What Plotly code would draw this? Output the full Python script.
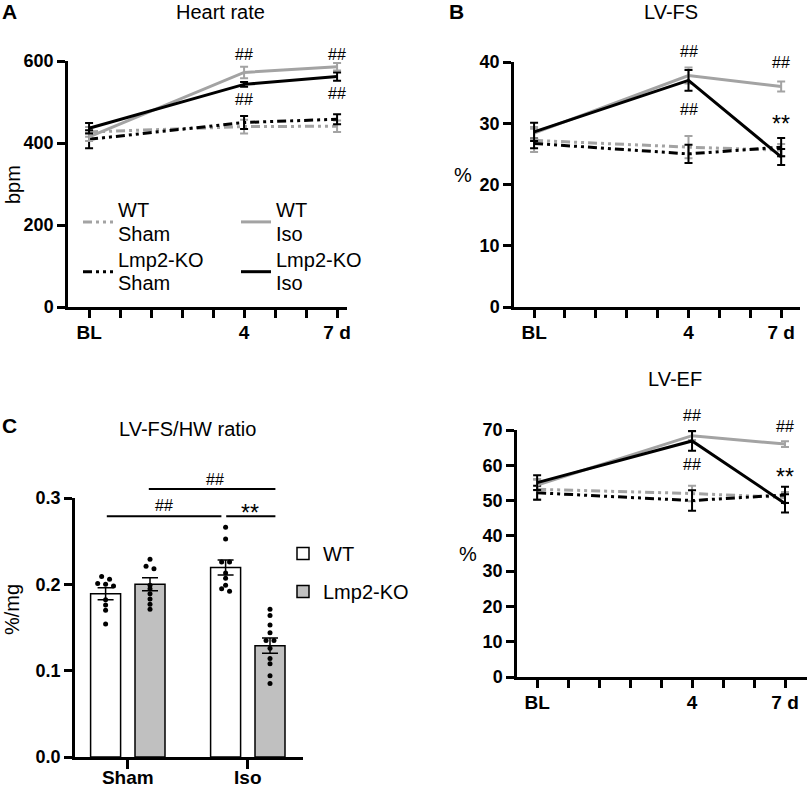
import plotly.graph_objects as go

# ---- data ----
day_ticks = [-1, 0, 1, 2, 3, 4, 5, 6, 7]
day_labels = ["BL", "", "", "", "", "4", "", "", "7 d"]
days = [-1, 4, 7]  # BL, day 4, day 7

# Heart rate (bpm), mean and SEM
hr_wt_sham = [427, 440, 441]
hr_wt_sham_sem = [12, 17, 14]
hr_ko_sham = [409, 450, 458]
hr_ko_sham_sem = [22, 16, 12]
hr_wt_iso = [415, 572, 586]
hr_wt_iso_sem = [10, 14, 9]
hr_ko_iso = [436, 543, 562]
hr_ko_iso_sem = [13, 6, 10]

# LV-FS (%)
fs_wt_sham = [27.2, 26.1, 25.6]
fs_wt_sham_sem = [1.9, 1.8, 1.0]
fs_ko_sham = [26.7, 25.0, 26.1]
fs_ko_sham_sem = [0.8, 1.5, 1.5]
fs_wt_iso = [28.4, 37.8, 36.0]
fs_wt_iso_sem = [1.0, 1.3, 0.8]
fs_ko_iso = [28.6, 37.0, 24.5]
fs_ko_iso_sem = [1.5, 1.7, 1.3]

# LV-EF (%)
ef_wt_sham = [53.2, 52.0, 50.9]
ef_wt_sham_sem = [2.9, 2.2, 1.5]
ef_ko_sham = [52.2, 50.0, 51.6]
ef_ko_sham_sem = [2.0, 2.9, 2.3]
ef_wt_iso = [54.4, 68.4, 66.0]
ef_wt_iso_sem = [1.5, 1.2, 0.8]
ef_ko_iso = [55.1, 66.9, 49.2]
ef_ko_iso_sem = [2.1, 2.8, 2.6]

# LV-FS/HW ratio (%/mg)
groups = ["Sham", "Iso"]
ratio_wt_mean = [0.189, 0.2195]
ratio_wt_sem = [0.007, 0.0087]
ratio_ko_mean = [0.200, 0.129]
ratio_ko_sem = [0.0075, 0.0087]
ratio_wt_sham_pts = [0.209, 0.206, 0.201, 0.200, 0.198, 0.182, 0.176, 0.170, 0.154]
ratio_ko_sham_pts = [0.229, 0.221, 0.218, 0.199, 0.195, 0.189, 0.183, 0.177, 0.171]
ratio_wt_iso_pts = [0.266, 0.2525, 0.226, 0.226, 0.213, 0.207, 0.199, 0.195, 0.192]
ratio_ko_iso_pts = [0.171, 0.164, 0.153, 0.144, 0.135, 0.135, 0.126, 0.114, 0.108, 0.094, 0.085]

# ---- layout helpers ----
W, H = 809, 788
FONT = "Liberation Sans, Arial, sans-serif"
GRAY = "#a3a3a3"
BLACK = "#000000"
DASH = "9px,4px,3px,4px,3px,4px"


def px_x(p):
    return p / W


def px_y(p):
    return 1 - p / H


def xdom(p0, p1):
    return [px_x(p0), px_x(p1)]


def ydom(top, bottom):
    return [px_y(bottom), px_y(top)]


def frac(v, dom, rng):
    return dom[0] + (v - rng[0]) / (rng[1] - rng[0]) * (dom[1] - dom[0])


panels = {
    "A": dict(x=xdom(68, 347), y=ydom(61, 307), xr=[-1.68, 7.32], yr=[0, 600], dt=200),
    "B": dict(x=xdom(514, 800), y=ydom(62, 307), xr=[-1.65, 7.61], yr=[0, 40], dt=10),
    "C": dict(x=xdom(75, 303), y=ydom(498, 757), xr=[-0.44, 1.46], yr=[0, 0.3], dt=0.1),
    "D": dict(x=xdom(517, 807), y=ydom(430, 677), xr=[-1.65, 7.71], yr=[0, 70], dt=10),
}
axis_ids = {"A": ("x", "y"), "B": ("x2", "y2"), "C": ("x3", "y3"), "D": ("x4", "y4")}

fig = go.Figure()


def leg_name(*lines):
    return "<br>".join(f"<span style='font-size:20px'>{s}</span>" for s in lines)


def add_series(panel, y, sem, name, color, dash, legend, show):
    xa, ya = axis_ids[panel]
    fig.add_trace(go.Scatter(
        x=days, y=y, mode="lines", name=leg_name(*name), xaxis=xa, yaxis=ya,
        line=dict(color=color, width=3, dash=dash),
        error_y=dict(type="data", array=sem, color=color, thickness=2, width=4),
        legend=legend, showlegend=show, legendgroup=" ".join(name),
    ))


line_sets = [
    ("A", [hr_wt_sham, hr_ko_sham, hr_wt_iso, hr_ko_iso],
     [hr_wt_sham_sem, hr_ko_sham_sem, hr_wt_iso_sem, hr_ko_iso_sem]),
    ("B", [fs_wt_sham, fs_ko_sham, fs_wt_iso, fs_ko_iso],
     [fs_wt_sham_sem, fs_ko_sham_sem, fs_wt_iso_sem, fs_ko_iso_sem]),
    ("D", [ef_wt_sham, ef_ko_sham, ef_wt_iso, ef_ko_iso],
     [ef_wt_sham_sem, ef_ko_sham_sem, ef_wt_iso_sem, ef_ko_iso_sem]),
]
series_style = [
    (("WT", "Sham"), GRAY, DASH, "legend"),
    (("Lmp2-KO", "Sham"), BLACK, DASH, "legend"),
    (("WT", "Iso"), GRAY, "solid", "legend3"),
    (("Lmp2-KO", "Iso"), BLACK, "solid", "legend3"),
]
for panel, ys, sems in line_sets:
    for (name, color, dash, leg), y, sem in zip(series_style, ys, sems):
        add_series(panel, y, sem, name, color, dash, leg, panel == "A")

# ---- panel C: bars, SEM and individual points ----
group_pos = [0, 1]
bar_w = 0.25
wt_c = [g - 0.185 for g in group_pos]
ko_c = [g + 0.185 for g in group_pos]


def swarm(values, center, tol=0.0035, step=0.066):
    rows = []
    for v in sorted(values, reverse=True):
        if rows and rows[-1][0] - v < tol:
            rows[-1].append(v)
        else:
            rows.append([v])
    xs, ys = [], []
    for row in rows:
        n = len(row)
        for i, v in enumerate(row):
            xs.append(center + (i - (n - 1) / 2) * step)
            ys.append(v)
    return xs, ys


fig.add_trace(go.Bar(x=group_pos, y=ratio_wt_mean, width=bar_w, offset=-0.31,
                     marker=dict(color="white", line=dict(color=BLACK, width=1.5)),
                     name="WT", xaxis="x3", yaxis="y3", legend="legend2", legendgroup="bwt"))
fig.add_trace(go.Bar(x=group_pos, y=ratio_ko_mean, width=bar_w, offset=0.06,
                     marker=dict(color="#c0c0c0", line=dict(color=BLACK, width=1.5)),
                     name="Lmp2-KO", xaxis="x3", yaxis="y3", legend="legend2", legendgroup="bko"))

for pts, c in [(ratio_wt_sham_pts, wt_c[0]), (ratio_ko_sham_pts, ko_c[0]),
               (ratio_wt_iso_pts, wt_c[1]), (ratio_ko_iso_pts, ko_c[1])]:
    sx, sy = swarm(pts, c)
    fig.add_trace(go.Scatter(x=sx, y=sy, mode="markers", xaxis="x3", yaxis="y3",
                             marker=dict(color=BLACK, size=5), showlegend=False))

fig.add_trace(go.Scatter(x=wt_c + ko_c, y=ratio_wt_mean + ratio_ko_mean, mode="markers",
                         marker=dict(size=0.1, color=BLACK), xaxis="x3", yaxis="y3",
                         error_y=dict(type="data", array=ratio_wt_sem + ratio_ko_sem,
                                      color=BLACK, thickness=1.5, width=8),
                         showlegend=False))

# ---- axes ----
axis_common = dict(showline=True, linecolor=BLACK, linewidth=2.5, ticks="outside",
                   ticklen=8, tickwidth=2.5, tickcolor=BLACK, showgrid=False, zeroline=False,
                   automargin=False)
xfont = dict(family=FONT, size=19, color=BLACK, weight="bold")
yfont = dict(family=FONT, size=18, color=BLACK, weight="bold")
layout_axes = {}
for key, (xa, ya) in axis_ids.items():
    p = panels[key]
    xname = "xaxis" + xa[1:]
    yname = "yaxis" + ya[1:]
    if key == "C":
        xt = dict(tickvals=group_pos, ticktext=groups, ticklen=9, ticklabelstandoff=-8)
        yt = dict(tickformat=".1f")
    else:
        xt = dict(tickvals=day_ticks, ticktext=day_labels, ticklabelstandoff=-2)
        yt = dict()
    layout_axes[xname] = dict(axis_common, domain=p["x"], range=p["xr"], anchor=ya,
                              tickfont=xfont, **xt)
    layout_axes[yname] = dict(axis_common, domain=p["y"], range=p["yr"], anchor=xa,
                              dtick=p["dt"], tick0=0, tickfont=yfont, **yt)

fig.update_layout(**layout_axes)

# ---- text ----
annotations = []


def txt(text, px, py, size=20, bold=False, angle=0):
    annotations.append(dict(text=f"<b>{text}</b>" if bold else text, x=px_x(px), y=px_y(py),
                            xref="paper", yref="paper", showarrow=False, textangle=angle,
                            xanchor="center", yanchor="middle",
                            font=dict(family=FONT, size=size, color=BLACK)))


txt("A", 9, 11, size=21, bold=True)
txt("B", 456, 11, size=21, bold=True)
txt("C", 9, 425, size=21, bold=True)
txt("Heart rate", 220, 12)
txt("LV-FS", 671, 12)
txt("LV-EF", 675, 379)
txt("LV-FS/HW ratio", 187, 429)
txt("bpm", 13, 185, angle=-90)
txt("%/mg", 12, 610, angle=-90)
txt("%", 463, 175)
txt("%", 468, 554)


def sig(text, panel, xv, yv, size=16):
    p = panels[panel]
    xa, _ = axis_ids[panel]
    annotations.append(dict(text=text, x=xv, y=frac(yv, p["y"], p["yr"]), xref=xa, yref="paper",
                            showarrow=False, xanchor="center", yanchor="middle",
                            font=dict(family=FONT, size=size, color=BLACK)))


# significance marks (value-axis positions of the text)
sig("##", "A", 4, 615)
sig("##", "A", 7, 615)
sig("##", "A", 4, 505)
sig("##", "A", 7, 521)
sig("##", "B", 4, 41.7)
sig("##", "B", 7, 39.9)
sig("##", "B", 4, 32.2)
sig("**", "B", 7, 29.8, size=23)
sig("##", "D", 4, 74.2)
sig("##", "D", 7, 70.9)
sig("##", "D", 4, 60.1)
sig("**", "D", 7, 56.8, size=23)

# brackets in panel C
pc = panels["C"]


def cx(v):
    return frac(v, pc["x"], pc["xr"])


def cy(v):
    return frac(v, pc["y"], pc["yr"])


shapes = []
brackets = [
    (ko_c[0] - 0.01, ko_c[1] + 0.045, 0.3105),
    (wt_c[0] + 0.01, wt_c[1] - 0.035, 0.279),
    (wt_c[1] + 0.005, ko_c[1] + 0.045, 0.279),
]
for x0, x1, yv in brackets:
    shapes.append(dict(type="line", xref="paper", yref="paper", x0=cx(x0), x1=cx(x1),
                       y0=cy(yv), y1=cy(yv), line=dict(color=BLACK, width=2)))
sig("##", "C", (ko_c[0] + ko_c[1]) / 2 + 0.04, 0.321)
sig("##", "C", (wt_c[0] + wt_c[1]) / 2 - 0.015, 0.291)
sig("**", "C", (wt_c[1] + ko_c[1]) / 2 + 0.02, 0.283, size=23)

legend_common = dict(bgcolor="rgba(0,0,0,0)", xanchor="left", yanchor="top",
                     font=dict(family=FONT, size=18, color=BLACK), itemwidth=30,
                     tracegroupgap=0)

fig.update_layout(
    width=W, height=H,
    margin=dict(l=0, r=0, t=0, b=0),
    paper_bgcolor="white", plot_bgcolor="white",
    font=dict(family=FONT, color=BLACK),
    annotations=annotations, shapes=shapes,
    barmode="overlay",
    legend=dict(legend_common, x=px_x(78), y=px_y(192)),
    legend3=dict(legend_common, x=px_x(236), y=px_y(192)),
    legend2=dict(legend_common, x=px_x(283), y=px_y(534), tracegroupgap=9,
                 font=dict(family=FONT, size=20, color=BLACK)),
)

# the default page body has an 8px margin; drop it so the figure fills the window
fig.write_html("out.html", config={"displayModeBar": False},
               post_script="document.body.style.margin = '0px';")
